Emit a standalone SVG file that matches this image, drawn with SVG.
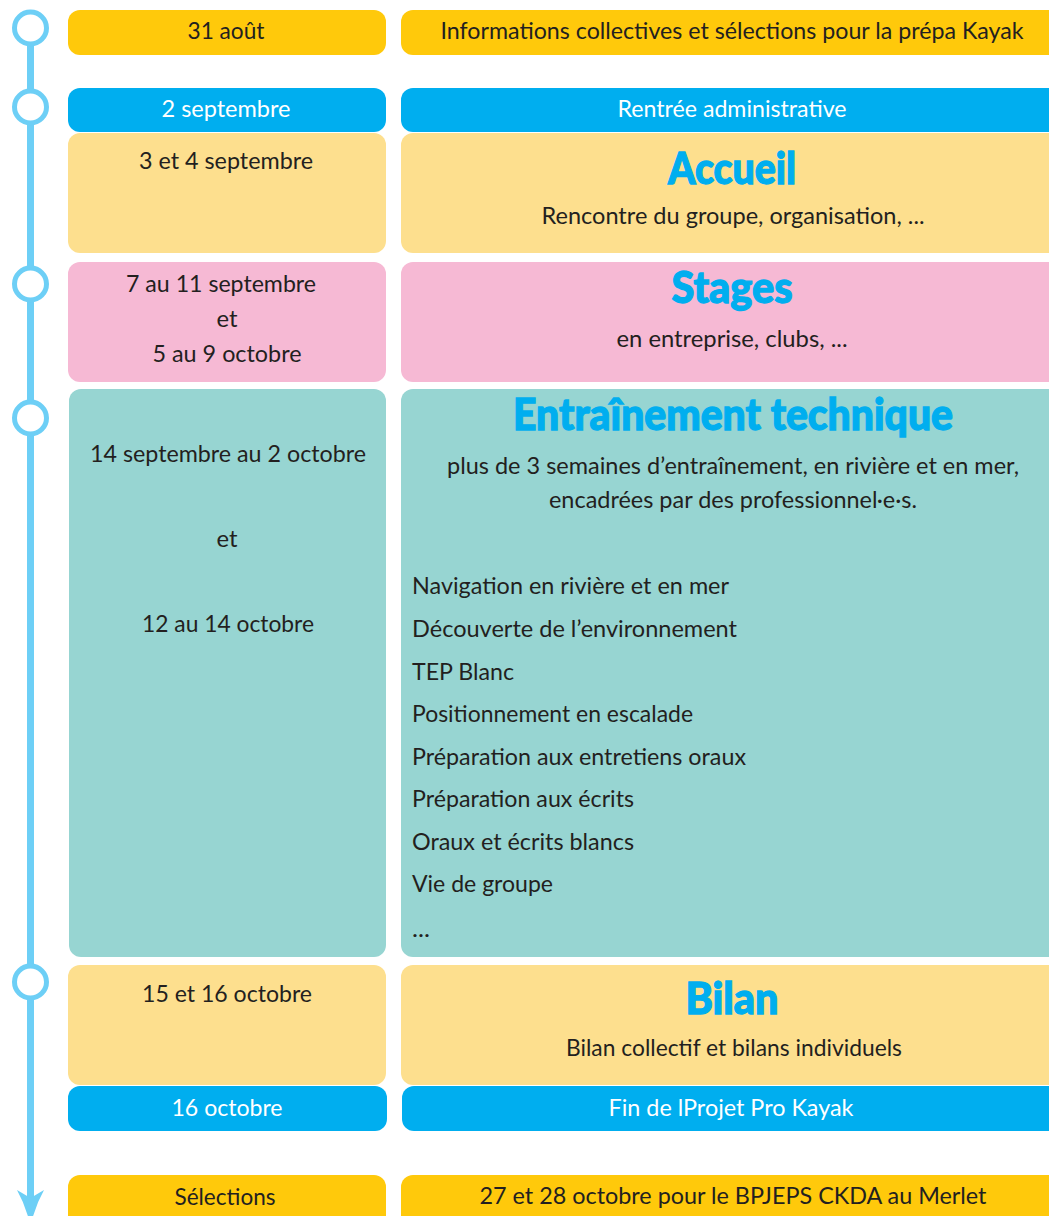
<svg xmlns="http://www.w3.org/2000/svg" width="1049" height="1216" viewBox="0 0 1049 1216">
<style>
.t{font-family:Lato,"Liberation Sans",sans-serif;font-size:24px;fill:#231f20}
.w{fill:#ffffff}
.c{text-anchor:middle}
.h{font-family:Lato,"Liberation Sans",sans-serif;font-weight:900;font-size:44px;fill:#00aeef;stroke:#00aeef;stroke-width:1.3;text-anchor:middle}
.gold{fill:#ffc90b}
.ly{fill:#fddf8e}
.bl{fill:#00aeef}
.pk{fill:#f6b9d4}
.tl{fill:#97d5d2}
.ring{fill:#ffffff;stroke:#6dcff6;stroke-width:5}
</style>
<g id="timeline">
<line x1="30.5" y1="28" x2="30.5" y2="1200" stroke="#6dcff6" stroke-width="7"/>
<path d="M30.5,1226 Q26,1206 17,1190 L30.5,1198 L44,1190 Q35,1206 30.5,1226 Z" fill="#6dcff6"/>
<circle class="ring" cx="30.5" cy="28" r="16"/>
<circle class="ring" cx="30.5" cy="107" r="16"/>
<circle class="ring" cx="30.5" cy="284" r="16"/>
<circle class="ring" cx="30.5" cy="418" r="16"/>
<circle class="ring" cx="30.5" cy="982" r="16"/>
</g>
<g id="connectors"></g>
<g id="row1">
<rect class="gold" x="68" y="10" width="318" height="45" rx="12"/>
<text class="t c" x="226" y="39" textLength="77" lengthAdjust="spacingAndGlyphs">31 août</text>
<rect class="gold" x="401" y="10" width="680" height="45" rx="12"/>
<text class="t c" x="732" y="39" textLength="583" lengthAdjust="spacingAndGlyphs">Informations collectives et sélections pour la prépa Kayak</text>
</g>
<g id="row2">
<rect class="bl" x="68" y="88" width="318" height="44" rx="12"/>
<text class="t w c" x="226" y="117" textLength="129" lengthAdjust="spacingAndGlyphs">2 septembre</text>
<rect class="bl" x="401" y="88" width="680" height="44" rx="12"/>
<text class="t w c" x="732" y="117" textLength="229" lengthAdjust="spacingAndGlyphs">Rentrée administrative</text>
</g>
<g id="row3">
<rect class="ly" x="68" y="133" width="318" height="120" rx="12"/>
<text class="t c" x="226" y="169" textLength="174" lengthAdjust="spacingAndGlyphs">3 et 4 septembre</text>
<rect class="ly" x="401" y="133" width="680" height="120" rx="12"/>
<text class="h" x="732" y="184" textLength="128" lengthAdjust="spacingAndGlyphs">Accueil</text>
<text class="t c" x="733" y="224" textLength="383" lengthAdjust="spacingAndGlyphs">Rencontre du groupe, organisation, ...</text>
</g>
<g id="row4">
<rect class="pk" x="68" y="262" width="318" height="120" rx="12"/>
<text class="t c" x="221" y="292" textLength="190" lengthAdjust="spacingAndGlyphs">7 au 11 septembre</text>
<text class="t c" x="227" y="327" textLength="21" lengthAdjust="spacingAndGlyphs">et</text>
<text class="t c" x="227" y="362" textLength="149" lengthAdjust="spacingAndGlyphs">5 au 9 octobre</text>
<rect class="pk" x="401" y="262" width="680" height="120" rx="12"/>
<text class="h" x="732" y="303" textLength="121" lengthAdjust="spacingAndGlyphs">Stages</text>
<text class="t c" x="732" y="347" textLength="231" lengthAdjust="spacingAndGlyphs">en entreprise, clubs, ...</text>
</g>
<g id="row5">
<rect class="tl" x="69" y="389" width="317" height="568" rx="12"/>
<text class="t c" x="228" y="462" textLength="276" lengthAdjust="spacingAndGlyphs">14 septembre au 2 octobre</text>
<text class="t c" x="227" y="547" textLength="21" lengthAdjust="spacingAndGlyphs">et</text>
<text class="t c" x="228" y="632" textLength="172" lengthAdjust="spacingAndGlyphs">12 au 14 octobre</text>
<rect class="tl" x="401" y="389" width="680" height="568" rx="12"/>
<text class="h" x="733" y="430" textLength="440" lengthAdjust="spacingAndGlyphs">Entraînement technique</text>
<text class="t c" x="733" y="474" textLength="572" lengthAdjust="spacingAndGlyphs">plus de 3 semaines d’entraînement, en rivière et en mer,</text>
<text class="t c" x="733" y="508" textLength="368" lengthAdjust="spacingAndGlyphs">encadrées par des professionnel·e·s.</text>
<text class="t" x="412" y="594" textLength="317" lengthAdjust="spacingAndGlyphs">Navigation en rivière et en mer</text>
<text class="t" x="412" y="637" textLength="325" lengthAdjust="spacingAndGlyphs">Découverte de l’environnement</text>
<text class="t" x="412" y="680" textLength="102" lengthAdjust="spacingAndGlyphs">TEP Blanc</text>
<text class="t" x="412" y="722" textLength="281" lengthAdjust="spacingAndGlyphs">Positionnement en escalade</text>
<text class="t" x="412" y="765" textLength="334" lengthAdjust="spacingAndGlyphs">Préparation aux entretiens oraux</text>
<text class="t" x="412" y="807" textLength="222" lengthAdjust="spacingAndGlyphs">Préparation aux écrits</text>
<text class="t" x="412" y="850" textLength="222" lengthAdjust="spacingAndGlyphs">Oraux et écrits blancs</text>
<text class="t" x="412" y="892" textLength="141" lengthAdjust="spacingAndGlyphs">Vie de groupe</text>
<text class="t" x="412" y="937" textLength="18" lengthAdjust="spacingAndGlyphs">...</text>
</g>
<g id="row6">
<rect class="ly" x="68" y="965" width="318" height="120" rx="12"/>
<text class="t c" x="227" y="1002" textLength="170" lengthAdjust="spacingAndGlyphs">15 et 16 octobre</text>
<rect class="ly" x="401" y="965" width="680" height="120" rx="12"/>
<text class="h" x="732" y="1014" textLength="93" lengthAdjust="spacingAndGlyphs">Bilan</text>
<text class="t c" x="734" y="1056" textLength="336" lengthAdjust="spacingAndGlyphs">Bilan collectif et bilans individuels</text>
</g>
<g id="row7">
<rect class="bl" x="68" y="1086" width="319" height="45" rx="12"/>
<text class="t w c" x="227" y="1116" textLength="111" lengthAdjust="spacingAndGlyphs">16 octobre</text>
<rect class="bl" x="402" y="1086" width="680" height="45" rx="12"/>
<text class="t w c" x="731" y="1116" textLength="245" lengthAdjust="spacingAndGlyphs">Fin de lProjet Pro Kayak</text>
</g>
<g id="row8">
<rect class="gold" x="68" y="1175" width="318" height="60" rx="12"/>
<text class="t c" x="225" y="1205" textLength="101" lengthAdjust="spacingAndGlyphs">Sélections</text>
<rect class="gold" x="401" y="1175" width="680" height="60" rx="12"/>
<text class="t c" x="733" y="1204" textLength="507" lengthAdjust="spacingAndGlyphs">27 et 28 octobre pour le BPJEPS CKDA au Merlet</text>
</g>
</svg>
